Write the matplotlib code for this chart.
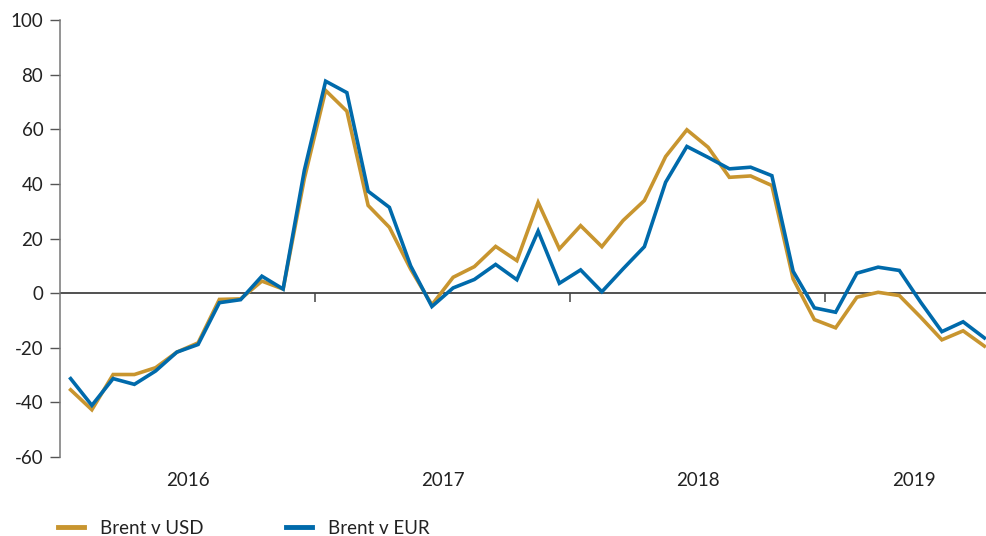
import matplotlib
matplotlib.use("Agg")
import matplotlib.pyplot as plt
from matplotlib.transforms import blended_transform_factory

# Monthly data, Jan 2016 - Aug 2019 (y/y % change)
months = list(range(44))
brent_usd = [-35.4, -42.7, -29.8, -29.8, -27.3, -21.6, -18.2, -2.3, -2.1, 4.4,
             1.5, 42.0, 74.2, 66.6, 32.1, 24.1, 8.8, -4.3, 5.8, 9.7,
             17.1, 11.9, 33.2, 16.2, 24.7, 17.0, 26.6, 33.9, 50.0, 59.8,
             53.4, 42.4, 42.9, 39.4, 5.2, -9.7, -12.7, -1.5, 0.3, -0.9,
             -8.8, -17.1, -13.8, -19.4]
brent_eur = [-31.3, -41.1, -31.3, -33.4, -28.5, -21.6, -18.8, -3.5, -2.4, 6.2,
             1.5, 45.0, 77.6, 73.4, 37.3, 31.4, 10.0, -4.9, 1.9, 5.0,
             10.5, 4.9, 22.7, 3.6, 8.5, 0.5, 8.9, 17.0, 40.6, 53.7,
             49.7, 45.5, 46.1, 43.0, 8.0, -5.4, -7.0, 7.3, 9.5, 8.3,
             -3.3, -14.1, -10.5, -16.4]
year_labels = ["2016", "2017", "2018", "2019"]
year_label_pos = [6.0, 18.0, 30.0, 40.2]
year_bounds = [12, 24, 36]
yticks = [-60, -40, -20, 0, 20, 40, 60, 80, 100]
series_names = ["Brent v USD", "Brent v EUR"]

GOLD = "#C8952F"
BLUE = "#006AAB"
TXT = "#222222"

plt.rcParams['font.family'] = ['Lato', 'DejaVu Sans']

W, H = 986, 536
fig = plt.figure(figsize=(W / 100, H / 100), dpi=100)
left, right, top, bottom = 60, 995, 20, 457
ax = fig.add_axes([left / W, 1 - bottom / H, (right - left) / W, (bottom - top) / H])

ax.set_xlim(0, 44)
ax.set_ylim(-60, 100)

x = [m + 0.5 for m in months]
l1, = ax.plot(x, brent_usd, color=GOLD, lw=2.6, solid_joinstyle='miter', zorder=3, label=series_names[0])
l2, = ax.plot(x, brent_eur, color=BLUE, lw=2.6, solid_joinstyle='miter', zorder=4, label=series_names[1])

ax.axhline(0, color=TXT, lw=1.1, zorder=2)
ax.vlines(year_bounds, -3.3, 0, color="#444444", lw=1.1, zorder=2)

for s in ['top', 'right', 'bottom']:
    ax.spines[s].set_visible(False)
ax.spines['left'].set_color('#777777')
ax.spines['left'].set_linewidth(1.1)

ax.set_yticks(yticks)
ax.set_yticklabels([str(v) for v in yticks])
ax.tick_params(axis='y', length=7, width=1.0, color='#555555', pad=5,
               labelsize=13.5, labelcolor=TXT)
ax.set_xticks([])

trans = blended_transform_factory(ax.transData, fig.transFigure)
for lab, pos in zip(year_labels, year_label_pos):
    ax.text(pos, 1 - 481 / H, lab, transform=trans, ha='center', va='center',
            fontsize=13.5, color=TXT)

leg = fig.legend(handles=[l1, l2], labels=series_names, loc='center left',
                 bbox_to_anchor=(58 / W, 1 - 528 / H), ncol=2, frameon=False,
                 fontsize=13.5, handlelength=1.4, handletextpad=0.85,
                 columnspacing=4.4, borderpad=0, borderaxespad=0)
for h in leg.legend_handles:
    h.set_linewidth(3.5)
for t in leg.get_texts():
    t.set_color(TXT)

fig.savefig("out.png", dpi=100)
